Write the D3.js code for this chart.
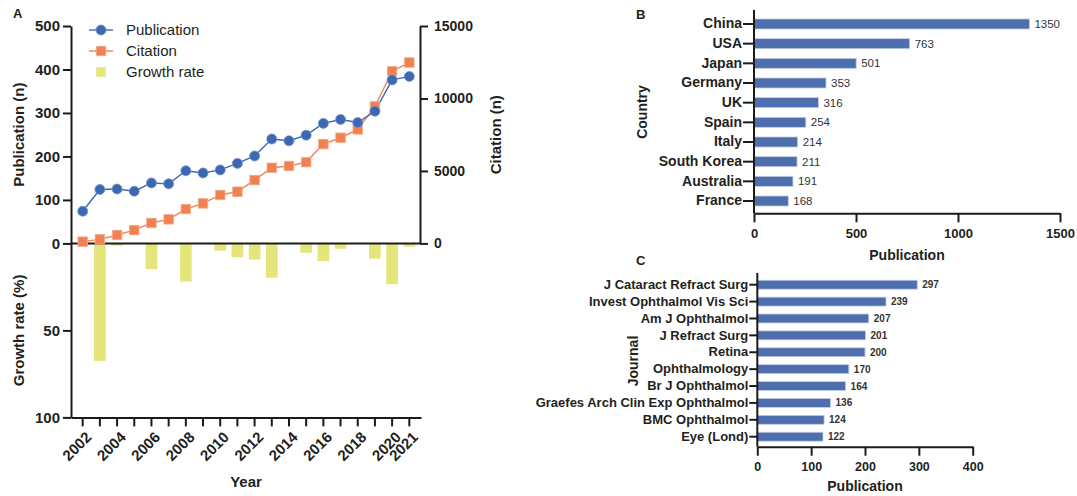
<!DOCTYPE html>
<html>
<head>
<meta charset="utf-8">
<script src="https://cdn.jsdelivr.net/npm/d3@7"></script>
<style>
  body { margin: 0; background: #fff; }
  svg { font-family: "Liberation Sans", Arial, sans-serif; }
  .axis path, .axis line { stroke: #1d1a1a; stroke-width: 2; }
  .axis text { fill: #231f20; font-weight: bold; }
</style>
</head>
<body>
<svg id="chart" width="1077" height="496"></svg>
<script>
// Panel A: yearly output
const years = [2002, 2003, 2004, 2005, 2006, 2007, 2008, 2009, 2010, 2011,
  2012, 2013, 2014, 2015, 2016, 2017, 2018, 2019, 2020, 2021]
const publications = [74, 124, 125, 120, 139, 137, 167, 162, 169, 184,
  201, 240, 236, 249, 276, 285, 278, 304, 376, 384]
const citations = [120, 280, 580, 920, 1410, 1660, 2370, 2760, 3340, 3570,
  4370, 5220, 5340, 5610, 6850, 7290, 7870, 9450, 11880, 12480]
const growthRate = [0, 67.6, 1.3, 0, 14.8, 0, 22, 0, 4.2, 8,
  9.3, 19.7, 0, 5.4, 10.2, 3.1, 0, 8.8, 23.5, 1.9]
const yearLabels = [2002, 2004, 2006, 2008, 2010, 2012, 2014, 2016, 2018, 2020, 2021]
const pubTicks = [0, 100, 200, 300, 400, 500]
const citeTicks = [0, 5000, 10000, 15000]
const growthTicks = [50, 100]

// Panel B: top countries
const countries = ['China', 'USA', 'Japan', 'Germany', 'UK', 'Spain', 'Italy',
  'South Korea', 'Australia', 'France']
const countryPubs = [1350, 763, 501, 353, 316, 254, 214, 211, 191, 168]
const countryTicks = [0, 500, 1000, 1500]

// Panel C: top journals
const journals = ['J Cataract Refract Surg', 'Invest Ophthalmol Vis Sci', 'Am J Ophthalmol',
  'J Refract Surg', 'Retina', 'Ophthalmology', 'Br J Ophthalmol',
  'Graefes Arch Clin Exp Ophthalmol', 'BMC Ophthalmol', 'Eye (Lond)']
const journalPubs = [297, 239, 207, 201, 200, 170, 164, 136, 124, 122]
const journalTicks = [0, 100, 200, 300, 400]

const BLUE = '#3c68b2'
const ORANGE = '#f08252'
const YELLOW = '#e4e57a'
const BAR = '#4f6ead'
const INK = '#231f20'
const plain = d3.format('d')

const svg = d3.select('#chart')

/* ---------- Panel A ---------- */
const A = {left: 71, right: 421, top: 26, zero: 243.4, bottom: 417.4}

let x = d3.scaleBand()
  .domain(years)
  .range([A.left, A.right])
  .paddingInner(0)
  .paddingOuter(0.18)
let xc = d => x(d) + x.bandwidth() / 2

let yPub = d3.scaleLinear().domain([0, 500]).range([A.zero, A.top])
let yCite = d3.scaleLinear().domain([0, 15000]).range([A.zero, A.top])
let yGrowth = d3.scaleLinear().domain([0, 100]).range([A.zero, A.bottom])

let gA = svg.append('g')

// growth bars, hanging down from zero
const barW = x.bandwidth() * 0.68
gA.selectAll('.growth')
  .data(years.map((y, i) => ({year: y, value: growthRate[i]})).filter(d => d.value > 0))
  .enter().append('rect')
  .attr('class', 'growth')
  .attr('x', d => xc(d.year) - barW / 2)
  .attr('y', yGrowth(0))
  .attr('width', barW)
  .attr('height', d => yGrowth(d.value) - yGrowth(0))
  .attr('fill', YELLOW)

// axes
let pubAxis = gA.append('g').attr('class', 'axis')
  .attr('transform', 'translate(' + A.left + ',0)')
  .call(d3.axisLeft(yPub).tickValues(pubTicks).tickSize(8).tickSizeOuter(0).tickPadding(3))
let growthAxis = gA.append('g').attr('class', 'axis')
  .attr('transform', 'translate(' + A.left + ',0)')
  .call(d3.axisLeft(yGrowth).tickValues(growthTicks).tickSize(8).tickSizeOuter(0).tickPadding(3))
pubAxis.selectAll('text').style('font-size', '15px')
growthAxis.selectAll('text').style('font-size', '15px')

let citeAxis = gA.append('g').attr('class', 'axis')
  .attr('transform', 'translate(' + (A.right - 1) + ',0)')
  .call(d3.axisRight(yCite).tickValues(citeTicks).tickFormat(plain)
    .tickSize(8).tickSizeOuter(0).tickPadding(6))
citeAxis.selectAll('text').style('font-size', '14px')

// zero line
gA.append('line')
  .attr('x1', A.left).attr('x2', A.right - 1)
  .attr('y1', A.zero).attr('y2', A.zero)
  .attr('stroke', '#1d1a1a').attr('stroke-width', 2)

let xAxis = gA.append('g').attr('class', 'axis')
  .attr('transform', 'translate(0,' + A.bottom + ')')
  .call(d3.axisBottom(x).tickSize(9).tickSizeOuter(0)
    .tickFormat(d => yearLabels.includes(d) ? d : ''))
xAxis.selectAll('text')
  .style('font-size', '15px')
  .style('text-anchor', 'end')
  .attr('x', 0).attr('y', 0).attr('dy', '0.35em')
  .attr('transform', 'translate(6,17) rotate(-45)')

// lines and markers
let pubLine = d3.line().x((d, i) => xc(years[i])).y(d => yPub(d))
let citeLine = d3.line().x((d, i) => xc(years[i])).y(d => yCite(d))

gA.append('path').datum(citations)
  .attr('d', citeLine).attr('fill', 'none')
  .attr('stroke', ORANGE).attr('stroke-width', 1.4)
gA.append('path').datum(publications)
  .attr('d', pubLine).attr('fill', 'none')
  .attr('stroke', BLUE).attr('stroke-width', 1.4)

const SQ = 9.5
gA.selectAll('.cite')
  .data(citations)
  .enter().append('rect')
  .attr('class', 'cite')
  .attr('x', (d, i) => xc(years[i]) - SQ / 2)
  .attr('y', d => yCite(d) - SQ / 2)
  .attr('width', SQ).attr('height', SQ)
  .attr('fill', ORANGE).attr('stroke', '#f6a988').attr('stroke-width', 0.8)

gA.selectAll('.pub')
  .data(publications)
  .enter().append('circle')
  .attr('class', 'pub')
  .attr('cx', (d, i) => xc(years[i]))
  .attr('cy', d => yPub(d))
  .attr('r', 5)
  .attr('fill', BLUE).attr('stroke', '#7393cc').attr('stroke-width', 0.8)

// legend
let legend = gA.append('g')
let lg = legend.append('g').attr('transform', 'translate(101,30)')
lg.append('line').attr('x1', -12).attr('x2', 12).attr('stroke', BLUE).attr('stroke-width', 1.4)
lg.append('circle').attr('r', 5).attr('fill', BLUE).attr('stroke', '#7393cc').attr('stroke-width', 0.8)
lg = legend.append('g').attr('transform', 'translate(101,51)')
lg.append('line').attr('x1', -12).attr('x2', 12).attr('stroke', ORANGE).attr('stroke-width', 1.4)
lg.append('rect').attr('x', -SQ / 2).attr('y', -SQ / 2).attr('width', SQ).attr('height', SQ)
  .attr('fill', ORANGE).attr('stroke', '#f6a988').attr('stroke-width', 0.8)
lg = legend.append('g').attr('transform', 'translate(101,72)')
lg.append('rect').attr('x', -SQ / 2).attr('y', -SQ / 2).attr('width', SQ).attr('height', SQ)
  .attr('fill', YELLOW)
legend.selectAll('.legend-label')
  .data(['Publication', 'Citation', 'Growth rate'])
  .enter().append('text')
  .attr('x', 126)
  .attr('y', (d, i) => 30 + i * 21)
  .attr('dy', '0.35em')
  .style('font-size', '15px')
  .attr('fill', INK)
  .text(d => d)

// titles
function vTitle(g, text, tx, ty, size) {
  g.append('text')
    .attr('transform', 'translate(' + tx + ',' + ty + ') rotate(-90)')
    .attr('text-anchor', 'middle').attr('dy', '0.35em')
    .style('font-size', size + 'px').style('font-weight', 'bold')
    .attr('fill', INK)
    .text(text)
}
function hTitle(g, text, tx, ty, size, anchor) {
  g.append('text')
    .attr('x', tx).attr('y', ty)
    .attr('text-anchor', anchor || 'middle').attr('dy', '0.35em')
    .style('font-size', size + 'px').style('font-weight', 'bold')
    .attr('fill', INK)
    .text(text)
}
vTitle(gA, 'Publication (n)', 19, (A.zero + A.top) / 2, 15)
vTitle(gA, 'Growth rate (%)', 19, (A.zero + A.bottom) / 2, 15)
vTitle(gA, 'Citation (n)', 496, (A.zero + A.top) / 2, 15)
hTitle(gA, 'Year', (A.left + A.right) / 2, 482, 15)
hTitle(gA, 'A', 13, 13, 13, 'start')

/* ---------- horizontal bar panels ---------- */
function hBars(opts) {
  let g = svg.append('g')
  let xs = d3.scaleLinear().domain(opts.domain).range([opts.left, opts.right])
  let ys = d3.scaleBand().domain(opts.cats)
    .range([opts.first - opts.step / 2, opts.last + opts.step / 2])
    .paddingInner(opts.pad).paddingOuter(opts.pad / 2)

  g.selectAll('.bar')
    .data(opts.cats.map((c, i) => ({key: c, value: opts.values[i]})))
    .enter().append('rect')
    .attr('class', 'bar')
    .attr('x', xs(0))
    .attr('y', d => ys(d.key))
    .attr('width', d => xs(d.value) - xs(0))
    .attr('height', ys.bandwidth())
    .attr('fill', BAR).attr('stroke', '#c3cfe8').attr('stroke-width', 0.8)

  g.selectAll('.bar-label')
    .data(opts.cats.map((c, i) => ({key: c, value: opts.values[i]})))
    .enter().append('text')
    .attr('class', 'bar-label')
    .attr('x', d => xs(d.value) + 5)
    .attr('y', d => ys(d.key) + ys.bandwidth() / 2)
    .attr('dy', '0.35em')
    .style('font-size', opts.valueSize + 'px')
    .style('font-weight', opts.valueWeight)
    .attr('fill', '#333')
    .text(d => d.value)

  let xa = g.append('g').attr('class', 'axis')
    .attr('transform', 'translate(0,' + opts.base + ')')
    .call(d3.axisBottom(xs).tickValues(opts.ticks).tickFormat(plain)
      .tickSize(9).tickSizeOuter(0).tickPadding(6))
  xa.selectAll('text').style('font-size', opts.tickSize + 'px')

  let ya = g.append('g').attr('class', 'axis')
    .attr('transform', 'translate(' + opts.left + ',0)')
    .call(d3.axisLeft(ys).tickSize(opts.catTick).tickPadding(1))
  ya.select('.domain').remove()
  ya.selectAll('text').style('font-size', opts.catSize + 'px')
  g.append('line')
    .attr('x1', opts.left).attr('x2', opts.left)
    .attr('y1', opts.top).attr('y2', opts.base)
    .attr('stroke', '#1d1a1a').attr('stroke-width', 2)
  return g
}

let gB = hBars({
  cats: countries, values: countryPubs, domain: [0, 1500], ticks: countryTicks,
  left: 754, right: 1060, top: 10, base: 213.3, first: 24, last: 201, step: 19.67,
  pad: 0.49, catTick: 11, catSize: 14, tickSize: 13, valueSize: 11.5, valueWeight: 'normal'
})
hTitle(gB, 'Publication', 907, 255, 14)
vTitle(gB, 'Country', 642, 112, 14)
hTitle(gB, 'B', 636, 14, 13, 'start')

let gC = hBars({
  cats: journals, values: journalPubs, domain: [0, 400], ticks: journalTicks,
  left: 757.3, right: 972.7, top: 273, base: 446.7, first: 284.7, last: 436.7, step: 16.89,
  pad: 0.47, catTick: 8, catSize: 13, tickSize: 12.5, valueSize: 10, valueWeight: 'bold'
})
hTitle(gC, 'Publication', 865, 486, 14)
vTitle(gC, 'Journal', 633, 361, 14)
hTitle(gC, 'C', 636, 260, 13, 'start')
</script>
</body>
</html>
